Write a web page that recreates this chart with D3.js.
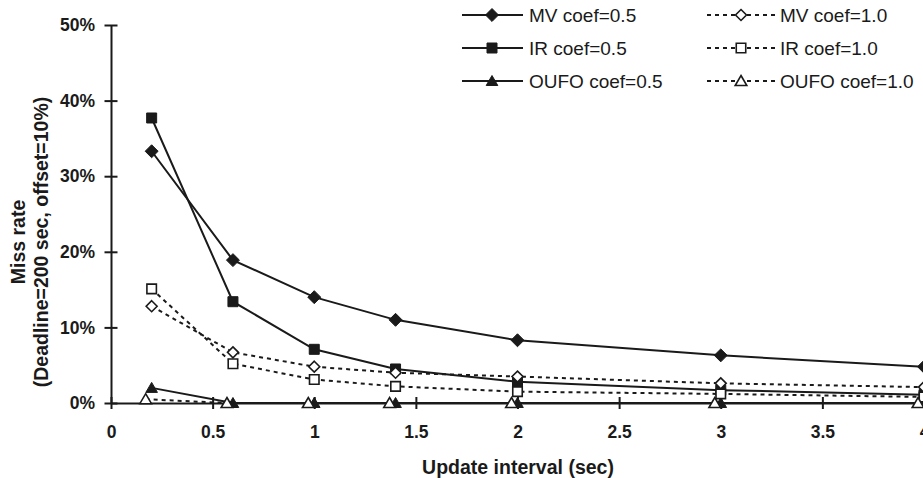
<!DOCTYPE html>
<html>
<head>
<meta charset="utf-8">
<script src="https://cdn.jsdelivr.net/npm/d3@7"></script>
<style>
  body { margin: 0; background: #fff; }
  svg { display: block; font-family: 'Liberation Sans', Arial, sans-serif; }
</style>
</head>
<body>
<div id="chart"></div>
<script>
// data (miss rate in %)
const intervals = [0.2, 0.6, 1, 1.4, 2, 3, 4]
const mvHalf = [33.3, 18.9, 14.0, 11.0, 8.3, 6.3, 4.8]
const irHalf = [37.7, 13.4, 7.1, 4.5, 2.8, 1.7, 1.1]
const oufoHalf = [2.0, 0, 0, 0, 0, 0, 0]
const mvOne = [12.8, 6.7, 4.8, 4.0, 3.5, 2.6, 2.1]
const irOne = [15.1, 5.2, 3.1, 2.2, 1.5, 1.2, 0.8]
const oufoOne = [0.5, 0, 0, 0, 0, 0, 0]

const xTicks = [0, 0.5, 1, 1.5, 2, 2.5, 3, 3.5, 4]
const yTicks = [0, 0.1, 0.2, 0.3, 0.4, 0.5]

const ink = '#1a1a1a'
const width = 923
const height = 478

// excel-like marker shapes
const diamond = {
  draw (ctx, size) {
    const r = Math.sqrt(size / 2)
    ctx.moveTo(0, -r); ctx.lineTo(r, 0); ctx.lineTo(0, r); ctx.lineTo(-r, 0); ctx.closePath()
  }
}
const triangle = {
  draw (ctx, size) {
    const s = Math.sqrt(size)
    ctx.moveTo(0, -s * 0.55); ctx.lineTo(s * 0.58, s * 0.45); ctx.lineTo(-s * 0.58, s * 0.45); ctx.closePath()
  }
}

const series = [
  { name: 'MV coef=0.5', values: mvHalf, shape: diamond, size: 84, filled: true },
  { name: 'IR coef=0.5', values: irHalf, shape: d3.symbolSquare, size: 100, filled: true },
  { name: 'OUFO coef=0.5', values: oufoHalf, shape: triangle, size: 100, filled: true },
  { name: 'MV coef=1.0', values: mvOne, shape: diamond, size: 60, filled: false },
  { name: 'IR coef=1.0', values: irOne, shape: d3.symbolSquare, size: 90, filled: false },
  { name: 'OUFO coef=1.0', values: oufoOne, shape: triangle, size: 100, filled: false, shift: -6 }
]

const svg = d3.select('#chart').append('svg')
  .attr('width', width)
  .attr('height', height)

const x = d3.scaleLinear().domain([0, 4]).range([111, 924])
const y = d3.scaleLinear().domain([0, 0.5]).range([403, 25])

// axes
const yAxis = svg.append('g')
  .attr('transform', `translate(${x(0)},0)`)
  .call(d3.axisLeft(y).tickValues(yTicks).tickFormat(d3.format('.0%')).tickSize(6).tickPadding(10).tickSizeOuter(0))
yAxis.selectAll('.tick line').attr('x1', 6.5).attr('x2', -6.5)

const xAxis = svg.append('g')
  .attr('transform', `translate(0,${y(0)})`)
  .call(d3.axisBottom(x).tickValues(xTicks).tickFormat(d3.format('~g')).tickSize(6).tickPadding(17).tickSizeOuter(0))
xAxis.selectAll('.tick line').attr('y1', -6).attr('y2', 6)

svg.selectAll('.domain, .tick line').attr('stroke', ink).attr('stroke-width', 2)
svg.selectAll('.tick text')
  .attr('fill', ink)
  .attr('font-size', 17.5)
  .attr('font-weight', 'bold')
  .attr('font-family', "'Liberation Sans', Arial, sans-serif")

// axis titles
svg.append('text')
  .attr('x', 518)
  .attr('y', 474)
  .attr('text-anchor', 'middle')
  .attr('font-size', 19.5)
  .attr('font-weight', 'bold')
  .attr('fill', ink)
  .text('Update interval (sec)')

const yTitle = ['Miss rate', '(Deadline=200 sec, offset=10%)']
svg.selectAll('.ytitle')
  .data(yTitle)
  .enter()
  .append('text')
  .attr('transform', (d, i) => `translate(${18 + i * 23},242) rotate(-90)`)
  .attr('text-anchor', 'middle')
  .attr('dy', '0.35em')
  .attr('font-size', 19.5)
  .attr('font-weight', 'bold')
  .attr('fill', ink)
  .text(d => d)

// lines and markers
const line = d3.line()
  .x((d, i) => x(intervals[i]))
  .y(d => y(d / 100))

const groups = svg.selectAll('.series')
  .data(series)
  .enter()
  .append('g')
  .attr('class', 'series')
  .attr('transform', d => `translate(${d.shift || 0},0)`)

groups.append('path')
  .attr('d', d => line(d.values))
  .attr('fill', 'none')
  .attr('stroke', ink)
  .attr('stroke-width', 2)
  .attr('stroke-dasharray', d => d.filled ? null : '4,4')

groups.selectAll('.mark')
  .data(d => d.values.map((v, i) => ({ v, i, s: d })))
  .enter()
  .append('path')
  .attr('transform', d => `translate(${x(intervals[d.i])},${y(d.v / 100)})`)
  .attr('d', d => d3.symbol(d.s.shape, d.s.size)())
  .attr('fill', d => d.s.filled ? ink : '#fff')
  .attr('stroke', ink)
  .attr('stroke-width', d => d.s.filled ? 1 : 1.6)

// legend
const legend = svg.selectAll('.legend')
  .data(series)
  .enter()
  .append('g')
  .attr('transform', (d, i) => `translate(${i < 3 ? 462 : 707},${15 + (i % 3) * 33})`)

legend.append('line')
  .attr('x1', 0)
  .attr('x2', d => d.filled ? 61 : 69)
  .attr('stroke', ink)
  .attr('stroke-width', 2)
  .attr('stroke-dasharray', d => d.filled ? null : '4,4')

legend.append('path')
  .attr('transform', d => `translate(${d.filled ? 30 : 34},0)`)
  .attr('d', d => d3.symbol(d.shape, d.size)())
  .attr('fill', d => d.filled ? ink : '#fff')
  .attr('stroke', ink)
  .attr('stroke-width', d => d.filled ? 1 : 1.6)

legend.append('text')
  .attr('x', d => d.filled ? 67 : 73)
  .attr('dy', '0.35em')
  .attr('font-size', 19)
  .attr('fill', ink)
  .text(d => d.name)
</script>
</body>
</html>
